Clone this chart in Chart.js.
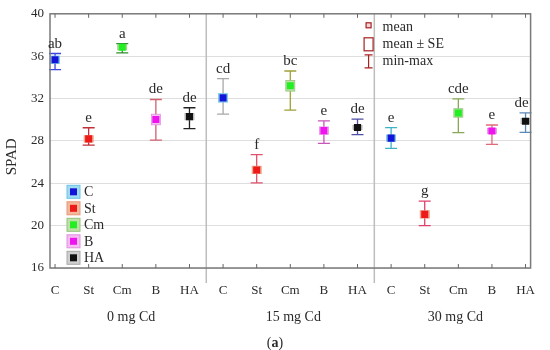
<!DOCTYPE html>
<html>
<head>
<meta charset="utf-8">
<script src="https://cdn.jsdelivr.net/npm/chart.js@4.4.0/dist/chart.umd.min.js"></script>
<style>
  html, body { margin: 0; padding: 0; background: #fff; }
  #wrap { width: 550px; height: 350px; }
</style>
</head>
<body>
<div id="wrap"><canvas id="spadChart"></canvas></div>
<script>
const treatments = ['C', 'St', 'Cm', 'B', 'HA'];
const doses = ['0 mg Cd', '15 mg Cd', '30 mg Cd'];
const yTicks = [16, 20, 24, 28, 32, 36, 40];

// one value per dose: 0, 15, 30 mg Cd
const meanC = [35.66, 32.06, 28.26];
const seC = [0.35, 0.4, 0.3];
const minC = [34.73, 30.52, 27.3];
const maxC = [36.25, 33.88, 29.25];
const lettersC = ['ab', 'cd', 'e'];

const meanSt = [28.19, 25.26, 21.06];
const seSt = [0.3, 0.35, 0.35];
const minSt = [27.6, 24.03, 20.0];
const maxSt = [29.24, 26.71, 22.32];
const lettersSt = ['e', 'f', 'g'];

const meanCm = [36.84, 33.2, 30.64];
const seCm = [0.25, 0.5, 0.4];
const minCm = [36.31, 30.9, 28.78];
const maxCm = [37.18, 34.6, 31.97];
const lettersCm = ['a', 'bc', 'cde'];

const meanB = [30.02, 28.97, 28.94];
const seB = [0.5, 0.35, 0.25];
const minB = [28.07, 27.76, 27.67];
const maxB = [31.91, 29.9, 29.5];
const lettersB = ['de', 'e', 'e'];

const meanHA = [30.29, 29.27, 29.86];
const seHA = [0.3, 0.2, 0.25];
const minHA = [29.15, 28.6, 28.81];
const maxHA = [31.13, 30.05, 30.64];
const lettersHA = ['de', 'de', 'de'];

const means = [meanC, meanSt, meanCm, meanB, meanHA];
const ses = [seC, seSt, seCm, seB, seHA];
const mins = [minC, minSt, minCm, minB, minHA];
const maxs = [maxC, maxSt, maxCm, maxB, maxHA];
const letters = [lettersC, lettersSt, lettersCm, lettersB, lettersHA];

// styles
const markerColors = ['#1414d8', '#ee1a1a', '#22ee22', '#ee14ee', '#111111'];
const seFills = ['#9fdcf2', '#f4b99a', '#bfe0a8', '#f5bdf2', '#cfcfcf'];
const seEdges = ['#6cc4e6', '#e8957a', '#94c47c', '#e28fe0', '#a9a9a9'];
// whisker colours per dose, per treatment
const whiskerColors = [
  ['#3a48e0', '#c0303a', '#2f8f2f', '#d06070', '#222222'],
  ['#a8a8a8', '#e0506c', '#a0a038', '#c858b8', '#4e4ea8'],
  ['#3fb3c6', '#e0406e', '#88a858', '#e06a78', '#5a88b8']
];
const serif = '"Liberation Serif", "DejaVu Serif", serif';
const inkColor = '#2a2a2a';
const legendRed = '#a82020';

const tickValues = doses.flatMap((d, g) => treatments.map((t, k) => g * 5 + k));

const datasets = treatments.map((t, k) => ({
  label: t,
  data: doses.map((d, g) => ({ x: g * 5 + k, y: means[k][g] })),
  backgroundColor: markerColors[k],
  borderColor: markerColors[k],
  pointStyle: 'rect',
  pointRadius: 5,
  pointBorderWidth: 0,
  showLine: false
}));

const spadDecor = {
  id: 'spadDecor',
  beforeDatasetsDraw(chart) {
    const { ctx, scales: { x, y } } = chart;
    ctx.save();
    treatments.forEach((t, k) => {
      doses.forEach((d, g) => {
        const px = x.getPixelForValue(g * 5 + k);
        const yTop = y.getPixelForValue(maxs[k][g]);
        const yBot = y.getPixelForValue(mins[k][g]);
        ctx.strokeStyle = whiskerColors[g][k];
        ctx.lineWidth = 1.3;
        ctx.beginPath();
        ctx.moveTo(px, yTop); ctx.lineTo(px, yBot);
        ctx.moveTo(px - 6, yTop); ctx.lineTo(px + 6, yTop);
        ctx.moveTo(px - 6, yBot); ctx.lineTo(px + 6, yBot);
        ctx.stroke();
        const s1 = y.getPixelForValue(means[k][g] + ses[k][g]);
        const s2 = y.getPixelForValue(means[k][g] - ses[k][g]);
        ctx.fillStyle = seFills[k];
        ctx.fillRect(px - 4.5, s1, 9, s2 - s1);
        ctx.strokeStyle = seEdges[k];
        ctx.lineWidth = 0.8;
        ctx.strokeRect(px - 4.5, s1, 9, s2 - s1);
      });
    });
    ctx.restore();
  },
  afterDraw(chart) {
    const { ctx, chartArea: a, scales: { x, y } } = chart;
    ctx.save();

    // panel dividers
    ctx.strokeStyle = '#bdbdbd';
    ctx.lineWidth = 1.5;
    [4.5, 9.5].forEach(v => {
      const px = x.getPixelForValue(v);
      ctx.beginPath();
      ctx.moveTo(px, a.top); ctx.lineTo(px, a.bottom + 15);
      ctx.stroke();
    });

    // frame
    ctx.strokeStyle = '#7a7a7a';
    ctx.lineWidth = 1.5;
    ctx.strokeRect(a.left, a.top, a.right - a.left, a.bottom - a.top);

    // inner tick marks top and bottom
    ctx.strokeStyle = '#666';
    ctx.lineWidth = 1;
    tickValues.forEach(v => {
      const px = x.getPixelForValue(v);
      ctx.beginPath();
      ctx.moveTo(px, a.bottom); ctx.lineTo(px, a.bottom - 4);
      ctx.moveTo(px, a.top); ctx.lineTo(px, a.top + 4);
      ctx.stroke();
    });

    // significance letters (kept inside the frame)
    ctx.fillStyle = inkColor;
    ctx.font = '15px ' + serif;
    ctx.textAlign = 'center';
    ctx.textBaseline = 'alphabetic';
    treatments.forEach((t, k) => {
      doses.forEach((d, g) => {
        const s = letters[k][g];
        const half = ctx.measureText(s).width / 2;
        let px = x.getPixelForValue(g * 5 + k);
        px = Math.min(px, a.right - 2 - half);
        const py = y.getPixelForValue(maxs[k][g]) - 6;
        ctx.fillText(s, px, py);
      });
    });

    // treatment legend (bottom left)
    ctx.font = '14px ' + serif;
    ctx.textAlign = 'left';
    ctx.textBaseline = 'middle';
    treatments.forEach((t, k) => {
      const bx = a.left + 17;
      const cy = a.top + 178 + k * 16.5;
      ctx.fillStyle = seFills[k];
      ctx.fillRect(bx, cy - 6.5, 13, 13);
      ctx.strokeStyle = seEdges[k];
      ctx.lineWidth = 1;
      ctx.strokeRect(bx, cy - 6.5, 13, 13);
      ctx.fillStyle = markerColors[k];
      ctx.fillRect(bx + 3, cy - 3.5, 7, 7);
      ctx.fillStyle = inkColor;
      ctx.fillText(t, bx + 17, cy + 1);
    });

    // statistics legend (top right)
    const lx = a.right - 162;
    const rows = [a.top + 14, a.top + 31, a.top + 48];
    ctx.strokeStyle = legendRed;
    ctx.lineWidth = 1.2;
    ctx.fillStyle = '#f3d6d6';
    ctx.fillRect(lx - 2.5, rows[0] - 5, 5, 5);
    ctx.strokeRect(lx - 2.5, rows[0] - 5, 5, 5);
    ctx.strokeRect(lx - 4.5, rows[1] - 7, 9, 13);
    ctx.beginPath();
    ctx.moveTo(lx, rows[2] - 7); ctx.lineTo(lx, rows[2] + 6);
    ctx.moveTo(lx - 4, rows[2] - 7); ctx.lineTo(lx + 4, rows[2] - 7);
    ctx.moveTo(lx - 4, rows[2] + 6); ctx.lineTo(lx + 4, rows[2] + 6);
    ctx.stroke();
    ctx.fillStyle = inkColor;
    ctx.font = '14px ' + serif;
    ['mean', 'mean \u00b1 SE', 'min-max'].forEach((s, i) => {
      ctx.fillText(s, lx + 14, rows[i]);
    });

    // dose group labels
    ctx.textAlign = 'center';
    ctx.textBaseline = 'middle';
    const edges = [a.left, x.getPixelForValue(4.5), x.getPixelForValue(9.5), a.right];
    doses.forEach((d, g) => {
      ctx.fillText(d, (edges[g] + edges[g + 1]) / 2 + 3, a.bottom + 49);
    });

    // caption (a)
    const cx = chart.width / 2;
    const cy = a.bottom + 75;
    ctx.textAlign = 'left';
    ctx.font = '14px ' + serif;
    const wP = ctx.measureText('(').width;
    ctx.font = 'bold 14px ' + serif;
    const wA = ctx.measureText('a').width;
    const start = cx - (2 * wP + wA) / 2;
    ctx.font = '14px ' + serif;
    ctx.fillText('(', start, cy);
    ctx.fillText(')', start + wP + wA, cy);
    ctx.font = 'bold 14px ' + serif;
    ctx.fillText('a', start + wP, cy);

    // y axis title
    ctx.translate(12, a.top + 143);
    ctx.rotate(-Math.PI / 2);
    ctx.font = '15px ' + serif;
    ctx.textAlign = 'center';
    ctx.fillText('SPAD', 0, 0);

    ctx.restore();
  }
};

new Chart(document.getElementById('spadChart'), {
  type: 'scatter',
  data: { datasets },
  options: {
    responsive: true,
    maintainAspectRatio: false,
    animation: false,
    events: [],
    layout: { padding: { top: 10, right: 6, left: 0, bottom: 0 } },
    plugins: {
      legend: { display: false },
      tooltip: { enabled: false }
    },
    scales: {
      x: {
        type: 'linear',
        min: -0.15,
        max: 14.15,
        afterBuildTicks: s => { s.ticks = tickValues.map(v => ({ value: v })); },
        afterFit: s => { s.height = 82; },
        grid: { display: false, drawTicks: false },
        border: { display: false },
        ticks: {
          autoSkip: false,
          maxRotation: 0,
          padding: 15,
          color: inkColor,
          font: { family: serif, size: 13 },
          callback: v => treatments[v % 5]
        }
      },
      y: {
        min: 16,
        max: 40,
        afterBuildTicks: s => { s.ticks = yTicks.map(v => ({ value: v })); },
        afterFit: s => { s.width = 50; },
        grid: { color: '#dedede', drawTicks: false },
        border: { display: false },
        ticks: {
          padding: 6,
          color: inkColor,
          font: { family: serif, size: 13 }
        }
      }
    }
  },
  plugins: [spadDecor]
});
</script>
</body>
</html>
